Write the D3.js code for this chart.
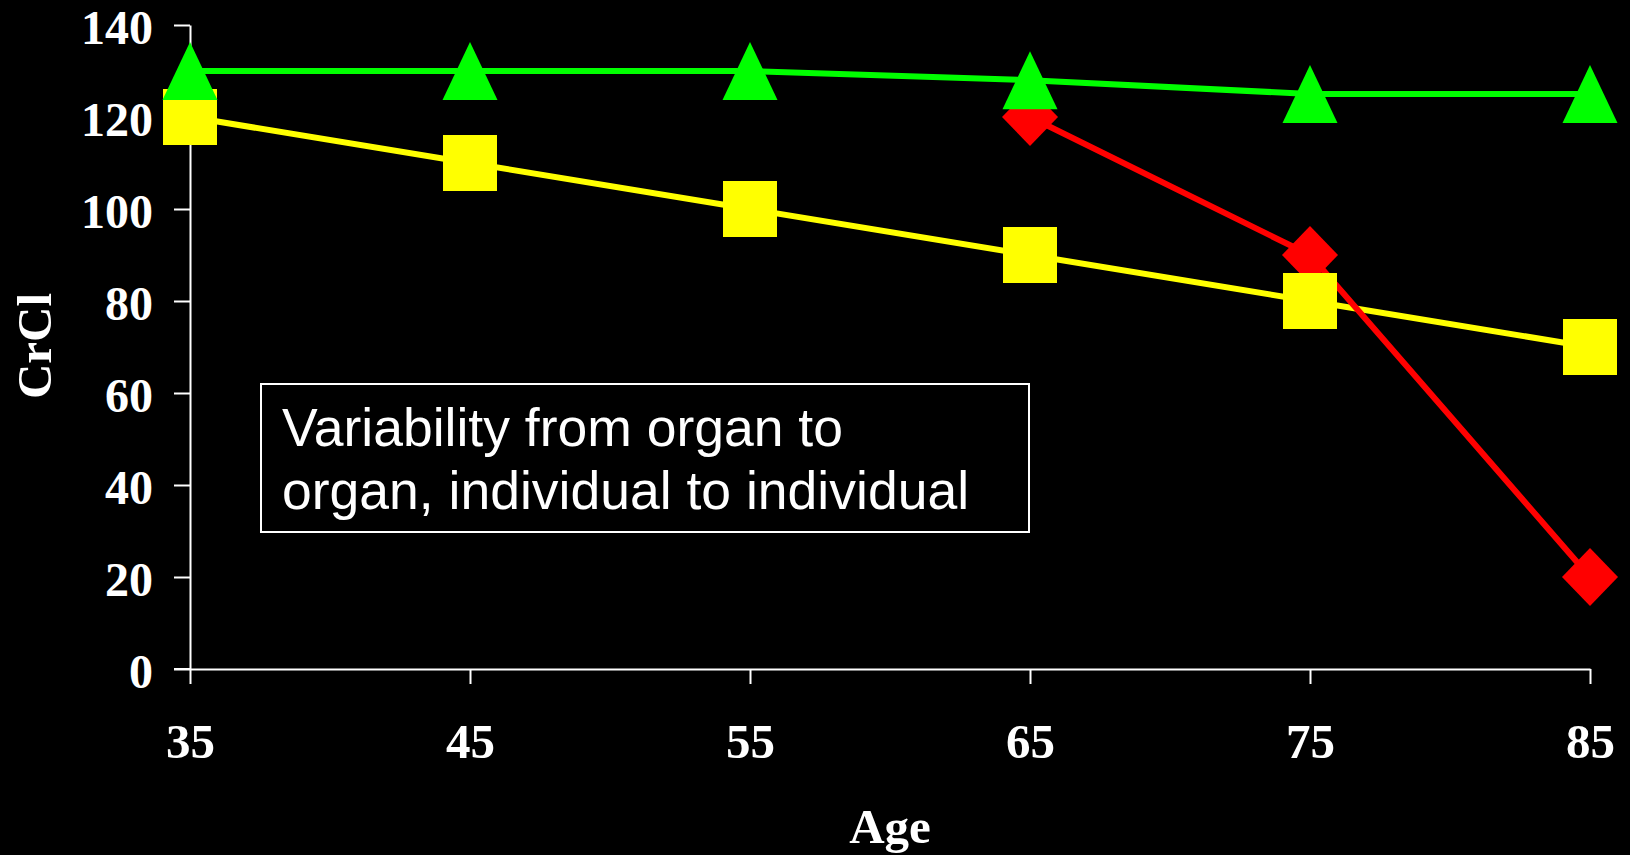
<!DOCTYPE html>
<html>
<head>
<meta charset="utf-8">
<script src="https://cdn.jsdelivr.net/npm/d3@7"></script>
<style>
  html, body { margin: 0; padding: 0; background: #000; }
  svg { display: block; }
</style>
</head>
<body>
<svg id="chart" width="1630" height="855"></svg>
<script>
// ---- data ----
const ages = [35, 45, 55, 65, 75, 85];
const yTicks = [0, 20, 40, 60, 80, 100, 120, 140];
const greenValues = [130, 130, 130, 128, 125, 125];
const yellowValues = [120, 110, 100, 90, 80, 70];
const redAges = [65, 75, 85];
const redValues = [120, 90, 20];
const xTitle = "Age";
const yTitle = "CrCl";
const noteLines = ["Variability from organ to", "organ, individual to individual"];

// ---- layout ----
const svg = d3.select("#chart");
svg.append("rect").attr("width", 1630).attr("height", 855).attr("fill", "#000");

const x = d3.scaleLinear().domain([35, 85]).range([190, 1590]);
const y = d3.scaleLinear().domain([0, 140]).range([669, 25]);

const serif = "'Liberation Serif', 'Times New Roman', serif";
const sans = "'Liberation Sans', Arial, sans-serif";

// y axis
const gy = svg.append("g").attr("transform", `translate(${x(35)},0)`)
  .call(d3.axisLeft(y).tickValues(yTicks).tickSize(16).tickSizeOuter(0).tickPadding(21));
gy.select(".domain").attr("stroke", "#fff").attr("stroke-width", 2);
gy.selectAll(".tick line").attr("stroke", "#fff").attr("stroke-width", 2);
gy.selectAll(".tick text").attr("fill", "#fff").attr("font-family", serif)
  .attr("font-weight", "bold").attr("font-size", 48).attr("dy", "0.38em");

// x axis
const gx = svg.append("g").attr("transform", `translate(0,${y(0)})`)
  .call(d3.axisBottom(x).tickValues(ages).tickSize(15).tickSizeOuter(0));
gx.select(".domain").attr("stroke", "#fff").attr("stroke-width", 2);
gx.selectAll(".tick line").attr("stroke", "#fff").attr("stroke-width", 2);
gx.selectAll(".tick text").attr("fill", "#fff").attr("font-family", serif)
  .attr("font-weight", "bold").attr("font-size", 49).attr("y", 89).attr("dy", "0");
// left extension of x axis to meet the zero tick
svg.append("line").attr("x1", x(35) - 16).attr("x2", x(35))
  .attr("y1", y(0)).attr("y2", y(0)).attr("stroke", "#fff").attr("stroke-width", 2);

// axis titles
svg.append("text").text(xTitle).attr("x", (x(35) + x(85)) / 2).attr("y", 843)
  .attr("text-anchor", "middle").attr("fill", "#fff").attr("font-family", serif)
  .attr("font-weight", "bold").attr("font-size", 49);
svg.append("text").text(yTitle)
  .attr("transform", `translate(51,346) rotate(-90)`)
  .attr("text-anchor", "middle").attr("fill", "#fff").attr("font-family", serif)
  .attr("font-weight", "bold").attr("font-size", 49);

// note box
svg.append("rect").attr("x", 261).attr("y", 384).attr("width", 768).attr("height", 148)
  .attr("fill", "#000").attr("stroke", "#fff").attr("stroke-width", 2);
const note = svg.append("text").attr("fill", "#fff").attr("font-family", sans).attr("font-size", 53.5);
noteLines.forEach((t, i) => {
  note.append("tspan").attr("x", 282).attr("y", 446 + i * 63).text(t);
});

// series
const green = ages.map((a, i) => ({ x: a, y: greenValues[i] }));
const yellow = ages.map((a, i) => ({ x: a, y: yellowValues[i] }));
const red = redAges.map((a, i) => ({ x: a, y: redValues[i] }));

const line = d3.line().x(d => x(d.x)).y(d => y(d.y));

svg.append("path").datum(yellow).attr("d", line).attr("fill", "none").attr("stroke", "#ffff00").attr("stroke-width", 6);
svg.append("path").datum(green).attr("d", line).attr("fill", "none").attr("stroke", "#00ff00").attr("stroke-width", 6);
svg.append("path").datum(red).attr("d", line).attr("fill", "none").attr("stroke", "#ff0000").attr("stroke-width", 6);

// markers: red diamonds, yellow squares, green triangles
svg.append("g").selectAll("path").data(red).join("path")
  .attr("d", d => { const cx = x(d.x), cy = y(d.y);
    return `M${cx},${cy - 29}L${cx + 28},${cy}L${cx},${cy + 29}L${cx - 28},${cy}Z`; })
  .attr("fill", "#ff0000");
svg.append("g").selectAll("rect").data(yellow).join("rect")
  .attr("x", d => x(d.x) - 27).attr("y", d => y(d.y) - 28)
  .attr("width", 54).attr("height", 56).attr("fill", "#ffff00");
svg.append("g").selectAll("path").data(green).join("path")
  .attr("d", d => { const cx = x(d.x), cy = y(d.y);
    return `M${cx},${cy - 29}L${cx + 27.5},${cy + 29}L${cx - 27.5},${cy + 29}Z`; })
  .attr("fill", "#00ff00");
</script>
</body>
</html>
